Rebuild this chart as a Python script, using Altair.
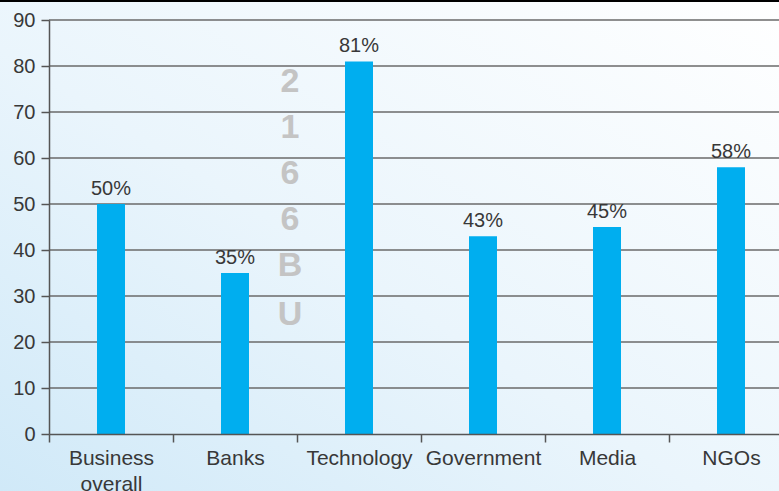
import altair as alt
import pandas as pd

categories = ["Business overall", "Banks", "Technology", "Government", "Media", "NGOs"]
values = [50, 35, 81, 43, 45, 58]
value_labels = ["50%", "35%", "81%", "43%", "45%", "58%"]
y_ticks = [0, 10, 20, 30, 40, 50, 60, 70, 80, 90]
watermark_chars = ["2", "1", "6", "6", "B", "U"]
watermark_pos = [76.5, 66.5, 56.5, 46.5, 36.5, 25.8]

df = pd.DataFrame({"cat": categories, "val": values, "lab": value_labels})
wm = pd.DataFrame({"ch": watermark_chars, "pos": watermark_pos, "cat": ["Technology"] * 6})
grid_df = pd.DataFrame({"t": y_ticks[1:]})

FONT = "Liberation Sans"
W, H = 730, 414

xs = alt.Scale(domain=categories, paddingInner=0, paddingOuter=0, range=[0, 744])
ys = alt.Scale(domain=[0, 90], nice=False)

y_axis = alt.Axis(values=y_ticks, tickSize=8, labelPadding=6,
                  labelFontSize=20, labelFont=FONT, labelColor="#383838",
                  domainColor="#555555", tickColor="#555555", domainWidth=1.5, tickWidth=1.5,
                  grid=False, zindex=1)

bg = alt.Chart(pd.DataFrame({"a": [0]})).mark_rect(
    color=alt.LinearGradient(
        gradient="linear",
        stops=[
            alt.GradientStop(color="#d0e9f8", offset=0),
            alt.GradientStop(color="#eaf5fc", offset=0.45),
            alt.GradientStop(color="#ffffff", offset=1),
        ],
        x1=0, y1=1, x2=1, y2=0,
    )
).encode(x=alt.value(-49), x2=alt.value(W), y=alt.value(-20), y2=alt.value(H + 57))

topline = alt.Chart(pd.DataFrame({"a": [0]})).mark_rule(color="#000000", strokeWidth=2).encode(
    x=alt.value(-49), x2=alt.value(W), y=alt.value(-19)
)

grid = alt.Chart(grid_df).mark_rule(color="#6a6a6a", strokeWidth=1.3).encode(
    y=alt.Y("t:Q", scale=ys, title=None, axis=y_axis), x=alt.value(0), x2=alt.value(W)
)

bars = alt.Chart(df).mark_bar(color="#00aeef", size=28).encode(
    x=alt.X("cat:N", scale=xs, sort=categories, title=None,
            axis=alt.Axis(
                labelExpr="datum.label == 'Business overall' ? ['Business', 'overall'] : datum.label",
                tickBand="extent", labelAngle=0, tickSize=8, labelPadding=5,
                labelFontSize=21, labelFont=FONT, labelColor="#383838",
                domainColor="#555555", tickColor="#555555", domainWidth=1.5, tickWidth=1.5,
                labelLineHeight=26, grid=False, zindex=1)),
    y=alt.Y("val:Q", scale=ys, title=None, axis=y_axis),
)

texts = alt.Chart(df).mark_text(baseline="bottom", dy=-5, fontSize=20, font=FONT, color="#383838").encode(
    x=alt.X("cat:N", scale=xs, sort=categories),
    y=alt.Y("val:Q", scale=ys),
    text="lab:N",
)

water = alt.Chart(wm).mark_text(fontSize=34, fontWeight="bold", font=FONT, color="#c4c4c4",
                                 baseline="middle", dx=-69).encode(
    x=alt.X("cat:N", scale=xs, sort=categories),
    y=alt.Y("pos:Q", scale=ys),
    text="ch:N",
)

chart = alt.layer(bg, topline, grid, bars, texts, water).properties(
    width=W, height=H,
    autosize=alt.AutoSizeParams(type="none"),
    padding={"left": 49, "top": 20, "right": 0, "bottom": 57},
).configure_view(stroke=None).configure(background="#ffffff")

chart.save("out.html", embed_options={"renderer": "svg", "actions": False})
